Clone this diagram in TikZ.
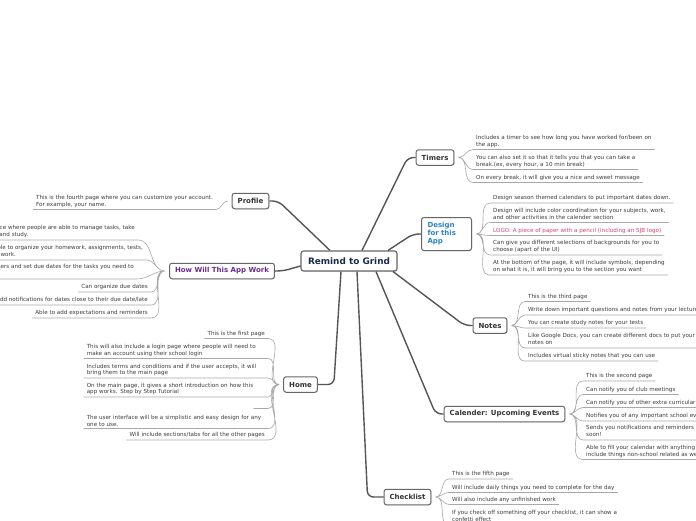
\documentclass[tikz,border=0pt]{standalone}
\usepackage{fontspec}
\setmainfont{DejaVu Sans}
\usepackage{xcolor}
\usepackage{tikz}
\usetikzlibrary{shadows}
\definecolor{branchgray}{HTML}{555555}
\definecolor{boxgray}{HTML}{666666}
\definecolor{twiggray}{HTML}{A8A8A8}
\definecolor{leaftext}{HTML}{3C3C3C}
\definecolor{topictext}{HTML}{333333}
\definecolor{roottext}{HTML}{1B2A4C}
\definecolor{designblue}{HTML}{2A84C6}
\definecolor{workpurple}{HTML}{6A2B90}
\definecolor{logored}{HTML}{D2456B}

\begin{document}
\begin{tikzpicture}[
    x=1pt, y=-1pt,
    root/.style={draw=boxgray, line width=1.1pt, rounded corners=2.5pt, fill=white, drop shadow={shadow xshift=0.6pt, shadow yshift=-0.7pt, opacity=0.3}, text=roottext, font=\fontsize{8.9}{10}\selectfont\bfseries, minimum width=96pt, minimum height=20pt, inner sep=0pt},
    topic/.style={draw=boxgray, line width=1pt, rounded corners=2.5pt, fill=white, drop shadow={shadow xshift=0.6pt, shadow yshift=-0.7pt, opacity=0.3}, text=topictext, font=\fontsize{7}{8}\selectfont\bfseries, minimum height=15.5pt, inner xsep=5.5pt, inner ysep=0pt},
    leaf/.style={text=leaftext, font=\fontsize{5.6}{6.8}\selectfont, align=left, inner xsep=3pt, inner ysep=1.7pt, text depth=1.4pt},
    wideleaf/.style={leaf, text width=178pt, text depth=},
    branch/.style={draw=branchgray, line width=1.4pt, rounded corners=6pt},
    twig/.style={draw=twiggray, line width=0.6pt}
]
\useasboundingbox (0,0) rectangle (696,520);
\fill[white] (0,0) rectangle (696,520);
\clip (0,0) rectangle (696,520);
% centre and main topics
\node[root] (root) at (349,261) {Remind to Grind};
\node[topic] (timers) at (435,157.5) {Timers};
\node[topic, text=designblue, align=left, text width=38pt, minimum height=33pt, inner xsep=6pt, font=\fontsize{7}{8}\selectfont\bfseries] (design) at (446.5,234) {Design\\for this\\App};
\node[topic] (notes) at (490,325.5) {Notes};
\node[topic] (calender) at (504.5,414) {Calender: Upcoming Events};
\node[topic] (checklist) at (407.5,497) {Checklist};
\node[topic] (home) at (300.5,384.5) {Home};
\node[topic, text=workpurple] (howwork) at (222,271) {How Will This App Work};
\node[topic] (profile) at (250.5,201) {Profile};
\draw[branch] ([xshift=-19pt]root.north) -- ([xshift=9pt]profile.east) -- (profile.east);
\draw[branch] ([xshift=13pt]root.north) -- ([xshift=-8pt]timers.west) -- (timers.west);
\draw[branch] ([xshift=39pt]root.north) -- ([xshift=-8pt]design.west) -- (design.west);
\draw[branch] ([xshift=44pt]root.south) -- ([xshift=-8pt]notes.west) -- (notes.west);
\draw[branch] ([xshift=27pt]root.south) -- ([xshift=-8pt]calender.west) -- (calender.west);
\draw[branch] ([xshift=8pt]root.south) -- ([xshift=-16pt]checklist.west) -- (checklist.west);
\draw[branch] ([xshift=-8pt]root.south) -- ([xshift=16pt]home.east) -- (home.east);
\draw[branch] ([yshift=-5pt]root.west) -- ([xshift=8pt]howwork.east) -- (howwork.east);
% timers
\node[leaf, anchor=south west] (tim1) at (473,149.5) {Includes a timer to see how long you have worked for/been on\\the app.};
\node[leaf, anchor=south west] (tim2) at (473,169.5) {You can also set it so that it tells you that you can take a\\break.(ex, every hour, a 10 min break)};
\node[leaf, anchor=south west] (tim3) at (473,182.5) {On every break, it will give you a nice and sweet message};
\draw[twig] ([xshift=4pt]timers.east) to[out=0,in=180] (tim1.south west) -- (tim1.south east)
  ([xshift=4pt]timers.east) to[out=0,in=180] (tim2.south west) -- (tim2.south east)
  ([xshift=4pt]timers.east) to[out=0,in=180] (tim3.south west) -- (tim3.south east);
% design
\node[leaf, anchor=south west] (des1) at (490,203) {Design season themed calendars to put important dates down.};
\node[leaf, anchor=south west] (des2) at (490,222.5) {Design will include color coordination for your subjects, work,\\and other activities in the calender section};
\node[leaf, anchor=south west, text=logored] (des3) at (490,235.5) {LOGO: A piece of paper with a pencil (including an SJB logo)};
\node[leaf, anchor=south west] (des4) at (490,255) {Can give you different selections of backgrounds for you to\\choose (apart of the UI)};
\node[leaf, anchor=south west] (des5) at (490,275) {At the bottom of the page, it will include symbols, depending\\on what it is, it will bring you to the section you want};
\draw[twig] ([xshift=4pt]design.east) to[out=0,in=180] (des1.south west) -- (des1.south east)
  ([xshift=4pt]design.east) to[out=0,in=180] (des2.south west) -- (des2.south east)
  ([xshift=4pt]design.east) to[out=0,in=180] (des3.south west) -- (des3.south east)
  ([xshift=4pt]design.east) to[out=0,in=180] (des4.south west) -- (des4.south east)
  ([xshift=4pt]design.east) to[out=0,in=180] (des5.south west) -- (des5.south east);
% notes
\node[leaf, anchor=south west] (not1) at (525,301.5) {This is the third page};
\node[leaf, anchor=south west] (not2) at (525,315) {Write down important questions and notes from your lectures};
\node[leaf, anchor=south west] (not3) at (525,328) {You can create study notes for your tests};
\node[leaf, anchor=south west] (not4) at (525,348) {Like Google Docs, you can create different docs to put your\\notes on};
\node[leaf, anchor=south west] (not5) at (525,361) {Includes virtual sticky notes that you can use};
\draw[twig] ([xshift=4pt]notes.east) to[out=0,in=180] (not1.south west) -- (not1.south east)
  ([xshift=4pt]notes.east) to[out=0,in=180] (not2.south west) -- (not2.south east)
  ([xshift=4pt]notes.east) to[out=0,in=180] (not3.south west) -- (not3.south east)
  ([xshift=4pt]notes.east) to[out=0,in=180] (not4.south west) -- (not4.south east)
  ([xshift=4pt]notes.east) to[out=0,in=180] (not5.south west) -- (not5.south east);
% calender
\node[leaf, anchor=south west] (cal1) at (583,381) {This is the second page};
\node[leaf, anchor=south west] (cal2) at (583,394.5) {Can notify you of club meetings};
\node[leaf, anchor=south west] (cal3) at (583,407.5) {Can notify you of other extra curricular activities};
\node[leaf, anchor=south west] (cal4) at (583,421) {Notifies you of any important school events};
\node[leaf, anchor=south west] (cal5) at (583,440) {Sends you notifications and reminders for events coming up\\soon!};
\node[leaf, anchor=south west] (cal6) at (583,459.5) {Able to fill your calendar with anything you want, this can\\include things non-school related as well};
\draw[twig] ([xshift=4pt]calender.east) to[out=0,in=180] (cal1.south west) -- (cal1.south east)
  ([xshift=4pt]calender.east) to[out=0,in=180] (cal2.south west) -- (cal2.south east)
  ([xshift=4pt]calender.east) to[out=0,in=180] (cal3.south west) -- (cal3.south east)
  ([xshift=4pt]calender.east) to[out=0,in=180] (cal4.south west) -- (cal4.south east)
  ([xshift=4pt]calender.east) to[out=0,in=180] (cal5.south west) -- (cal5.south east)
  ([xshift=4pt]calender.east) to[out=0,in=180] (cal6.south west) -- (cal6.south east);
% checklist
\node[leaf, anchor=south west] (chk1) at (449,479) {This is the fifth page};
\node[leaf, anchor=south west] (chk2) at (449,492.5) {Will include daily things you need to complete for the day};
\node[leaf, anchor=south west] (chk3) at (449,504.5) {Will also include any unfinished work};
\node[leaf, anchor=south west] (chk4) at (449,525) {If you check off something off your checklist, it can show a\\confetti effect};
\draw[twig] ([xshift=4pt]checklist.east) to[out=0,in=180] (chk1.south west) -- (chk1.south east)
  ([xshift=4pt]checklist.east) to[out=0,in=180] (chk2.south west) -- (chk2.south east)
  ([xshift=4pt]checklist.east) to[out=0,in=180] (chk3.south west) -- (chk3.south east)
  ([xshift=4pt]checklist.east) to[out=0,in=180] (chk4.south west) -- (chk4.south east);
% home
\node[leaf, anchor=south east] (hom1) at (268,338.5) {This is the first page};
\node[wideleaf, anchor=south east] (hom2) at (268,358.5) {This will also include a login page where people will need to\\make an account using their school login};
\node[wideleaf, anchor=south east] (hom3) at (268,378) {Includes terms and conditions and if the user accepts, it will\\bring them to the main page};
\node[wideleaf, anchor=south east] (hom4) at (268,397) {On the main page, it gives a short introduction on how this\\app works. Step by Step Tutorial};
\node[leaf, anchor=south east, minimum width=14pt] (hom5) at (268,408.5) {};
\node[wideleaf, anchor=south east] (hom6) at (268,428.5) {The user interface will be a simplistic and easy design for any\\one to use.};
\node[leaf, anchor=south east] (hom7) at (268,440) {Will include sections/tabs for all the other pages};
\draw[twig] ([xshift=-4pt]home.west) to[out=180,in=0] (hom1.south east) -- (hom1.south west)
  ([xshift=-4pt]home.west) to[out=180,in=0] (hom2.south east) -- (hom2.south west)
  ([xshift=-4pt]home.west) to[out=180,in=0] (hom3.south east) -- (hom3.south west)
  ([xshift=-4pt]home.west) to[out=180,in=0] (hom4.south east) -- (hom4.south west)
  ([xshift=-4pt]home.west) to[out=180,in=0] (hom5.south east) -- (hom5.south west)
  ([xshift=-4pt]home.west) to[out=180,in=0] (hom6.south east) -- (hom6.south west)
  ([xshift=-4pt]home.west) to[out=180,in=0] (hom7.south east) -- (hom7.south west);
% how will this app work
\node[leaf, anchor=south east] (how1) at (138,240) {This is a place where people are able to manage tasks, take\\notes, plan and study.};
\node[leaf, anchor=south east] (how2) at (146,260) {You are able to organize your homework, assignments, tests,\\and other work.};
\node[leaf, anchor=south east] (how3) at (137,279) {Able to set up planners and set due dates for the tasks you need to\\complete};
\node[leaf, anchor=south east] (how4) at (151,292) {Can organize due dates};
\node[leaf, anchor=south east] (how5) at (151,305) {Able to add notifications for dates close to their due date/late};
\node[leaf, anchor=south east] (how6) at (151,318) {Able to add expectations and reminders};
\draw[twig] ([xshift=-4pt]howwork.west) to[out=180,in=0] (how1.south east) -- (how1.south west)
  ([xshift=-4pt]howwork.west) to[out=180,in=0] (how2.south east) -- (how2.south west)
  ([xshift=-4pt]howwork.west) to[out=180,in=0] (how3.south east) -- (how3.south west)
  ([xshift=-4pt]howwork.west) to[out=180,in=0] (how4.south east) -- (how4.south west)
  ([xshift=-4pt]howwork.west) to[out=180,in=0] (how5.south east) -- (how5.south west)
  ([xshift=-4pt]howwork.west) to[out=180,in=0] (how6.south east) -- (how6.south west);
% profile
\node[leaf, anchor=south east] (pro1) at (216,209.5) {This is the fourth page where you can customize your account.\\For example, your name.};
\draw[twig] ([xshift=-4pt]profile.west) to[out=180,in=0] (pro1.south east) -- (pro1.south west);
\end{tikzpicture}
\end{document}
